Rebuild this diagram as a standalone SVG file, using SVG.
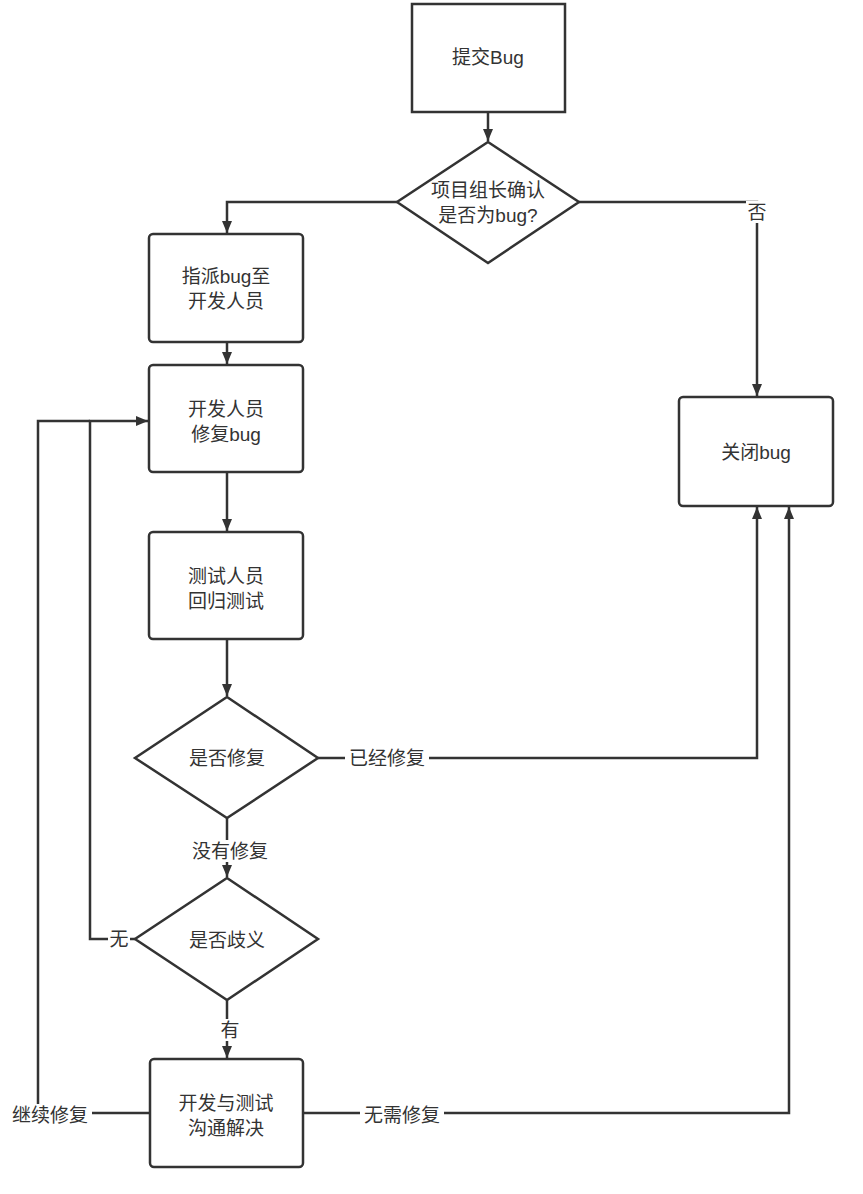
<svg xmlns="http://www.w3.org/2000/svg" width="863" height="1194" viewBox="0 0 863 1194">
<defs>
<marker id="arr" viewBox="0 0 12 10" refX="12" refY="5" markerWidth="12" markerHeight="10" markerUnits="userSpaceOnUse" orient="auto">
<path d="M0,0 L12,5 L0,10 z" fill="#333"/>
</marker>
<style>
.n{fill:#fff;stroke:#333;stroke-width:2.5}
.t{font-family:"Liberation Sans","Noto Sans CJK SC",sans-serif;font-size:19px;fill:#333;text-anchor:middle;dominant-baseline:central}
.c{fill:none;stroke:#333;stroke-width:2.5}
.lb{fill:#fff}
</style>
</defs>
<rect width="863" height="1194" fill="#fff"/>
<g id="connectors">
<path class="c" d="M488,112 V141" marker-end="url(#arr)"/>
<path class="c" d="M397,202 H227 V233" marker-end="url(#arr)"/>
<path class="c" d="M579,202 H757 V396" marker-end="url(#arr)"/>
<path class="c" d="M227,342 V364" marker-end="url(#arr)"/>
<path class="c" d="M227,472 V531" marker-end="url(#arr)"/>
<path class="c" d="M227,639 V696" marker-end="url(#arr)"/>
<path class="c" d="M318,758 H757 V507" marker-end="url(#arr)"/>
<path class="c" d="M227,818 V877" marker-end="url(#arr)"/>
<path class="c" d="M135,939 H90 V421 H148" marker-end="url(#arr)"/>
<path class="c" d="M227,1000 V1058" marker-end="url(#arr)"/>
<path class="c" d="M150,1113 H38 V421 H90"/>
<path class="c" d="M303,1113 H789 V507" marker-end="url(#arr)"/>
<rect class="lb" x="746" y="201" width="22" height="22"/>
<text class="t" x="757" y="212">否</text>
<rect class="lb" x="345" y="747" width="84" height="22"/>
<text class="t" x="387" y="758">已经修复</text>
<rect class="lb" x="188" y="840" width="84" height="22"/>
<text class="t" x="230" y="851">没有修复</text>
<rect class="lb" x="108" y="928" width="22" height="22"/>
<text class="t" x="119" y="939">无</text>
<rect class="lb" x="219" y="1019" width="22" height="22"/>
<text class="t" x="230" y="1030">有</text>
<rect class="lb" x="8" y="1104" width="84" height="22"/>
<text class="t" x="50" y="1115">继续修复</text>
<rect class="lb" x="360" y="1104" width="84" height="22"/>
<text class="t" x="402" y="1115">无需修复</text>
</g>
<g id="n1">
<rect class="n" x="412" y="4" width="153" height="108"/>
<text class="t" x="488" y="57">提交Bug</text>
</g>
<g id="n2">
<path class="n" d="M488,142 L579,202 L488,263 L397,202 z"/>
<text class="t" x="488" y="190">项目组长确认</text>
<text class="t" x="488" y="215">是否为bug?</text>
</g>
<g id="n3">
<rect class="n" x="149" y="234" width="154" height="108" rx="4"/>
<text class="t" x="226" y="276">指派bug至</text>
<text class="t" x="226" y="301">开发人员</text>
</g>
<g id="n4">
<rect class="n" x="149" y="365" width="154" height="107" rx="4"/>
<text class="t" x="226" y="409">开发人员</text>
<text class="t" x="226" y="434">修复bug</text>
</g>
<g id="n5">
<rect class="n" x="149" y="532" width="154" height="107" rx="4"/>
<text class="t" x="226" y="576">测试人员</text>
<text class="t" x="226" y="601">回归测试</text>
</g>
<g id="n6">
<path class="n" d="M227,697 L318,758 L227,818 L135,758 z"/>
<text class="t" x="227" y="758">是否修复</text>
</g>
<g id="n7">
<path class="n" d="M227,878 L318,939 L227,1000 L135,939 z"/>
<text class="t" x="227" y="940">是否歧义</text>
</g>
<g id="n8">
<rect class="n" x="150" y="1059" width="153" height="108" rx="4"/>
<text class="t" x="226" y="1103">开发与测试</text>
<text class="t" x="226" y="1128">沟通解决</text>
</g>
<g id="n9">
<rect class="n" x="679" y="397" width="154" height="109" rx="4"/>
<text class="t" x="756" y="452">关闭bug</text>
</g>
</svg>
